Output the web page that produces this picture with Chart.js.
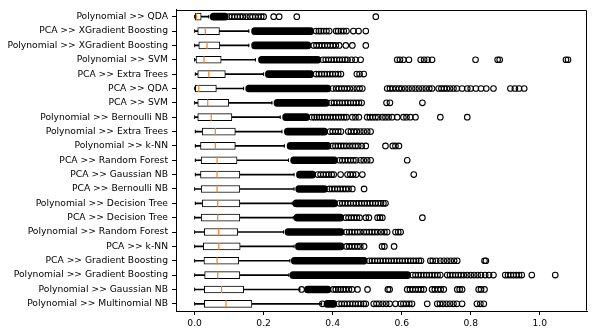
<!DOCTYPE html>
<html>
<head>
<meta charset="utf-8">
<script src="https://cdn.jsdelivr.net/npm/chart.js@4.4.1/dist/chart.umd.min.js"></script>
<style>
  html, body { margin: 0; padding: 0; background: #ffffff; }
  canvas { display: block; }
</style>
</head>
<body>
<canvas id="c" width="598" height="334"></canvas>
<script>
const labels = [
  'Polynomial >> QDA',
  'PCA >> XGradient Boosting',
  'Polynomial >> XGradient Boosting',
  'Polynomial >> SVM',
  'PCA >> Extra Trees',
  'PCA >> QDA',
  'PCA >> SVM',
  'Polynomial >> Bernoulli NB',
  'Polynomial >> Extra Trees',
  'Polynomial >> k-NN',
  'PCA >> Random Forest',
  'PCA >> Gaussian NB',
  'PCA >> Bernoulli NB',
  'Polynomial >> Decision Tree',
  'PCA >> Decision Tree',
  'Polynomial >> Random Forest',
  'PCA >> k-NN',
  'PCA >> Gradient Boosting',
  'Polynomial >> Gradient Boosting',
  'Polynomial >> Gaussian NB',
  'Polynomial >> Multinomial NB'
];

const whiskerLow  = [0.000,0.000,0.000,0.000,0.002,0.000,0.000,0.000,0.002,0.002,0.002,0.002,0.000,0.002,0.000,0.000,0.000,0.000,0.000,0.000,0.000];
const q1          = [0.002,0.009,0.012,0.004,0.009,0.002,0.009,0.009,0.022,0.017,0.019,0.017,0.019,0.022,0.019,0.028,0.025,0.027,0.029,0.028,0.028];
const median      = [0.005,0.031,0.036,0.027,0.041,0.012,0.038,0.048,0.060,0.060,0.065,0.065,0.065,0.067,0.067,0.070,0.070,0.065,0.067,0.078,0.091];
const q3          = [0.019,0.072,0.073,0.077,0.089,0.063,0.099,0.108,0.118,0.118,0.123,0.131,0.131,0.131,0.131,0.125,0.132,0.128,0.131,0.142,0.166];
const whiskerHigh = [0.041,0.157,0.157,0.176,0.200,0.142,0.224,0.248,0.253,0.260,0.272,0.288,0.288,0.283,0.286,0.258,0.288,0.276,0.273,0.305,0.368];

// ranges where the outlier circles overlap into a solid band
const denseLow  = [0.045,0.165,0.165,0.185,0.205,0.148,0.230,0.255,0.260,0.268,0.278,0.295,0.293,0.285,0.288,0.262,0.292,0.280,0.276,0.318,0.375];
const denseHigh = [0.097,0.345,0.337,0.366,0.345,0.395,0.390,0.333,0.385,0.395,0.414,0.351,0.385,0.414,0.432,0.433,0.433,0.500,0.626,0.395,0.412];

// individual outliers per row
const fliers = [
  [0.10,0.108,0.116,0.124,0.132,0.14,0.15,0.16,0.168,0.176,0.185,0.193,0.2,0.229,0.245,0.296,0.525],
  [0.352,0.36,0.366,0.374,0.382,0.39,0.41,0.416,0.424,0.432,0.44,0.46,0.475,0.496],
  [0.345,0.353,0.361,0.369,0.377,0.385,0.393,0.401,0.409,0.419,0.438,0.457,0.496],
  [0.372,0.38,0.388,0.396,0.404,0.412,0.42,0.428,0.436,0.443,0.455,0.466,0.481,0.587,0.595,0.605,0.621,0.655,0.665,0.675,0.688,0.814,0.878,0.884,1.076,1.082],
  [0.352,0.36,0.368,0.376,0.384,0.392,0.4,0.408,0.416,0.424,0.47,0.478,0.49],
  [0.40,0.41,0.418,0.426,0.434,0.442,0.45,0.46,0.47,0.478,0.486,0.558,0.566,0.574,0.583,0.592,0.6,0.61,0.62,0.63,0.64,0.65,0.66,0.67,0.68,0.688,0.707,0.715,0.723,0.731,0.74,0.75,0.76,0.775,0.79,0.80,0.815,0.83,0.845,0.866,0.915,0.928,0.94,0.955],
  [0.396,0.404,0.412,0.42,0.428,0.436,0.444,0.452,0.46,0.468,0.476,0.484,0.556,0.566,0.66],
  [0.34,0.347,0.354,0.361,0.369,0.377,0.385,0.393,0.401,0.409,0.417,0.425,0.433,0.44,0.457,0.466,0.476,0.50,0.508,0.516,0.524,0.532,0.544,0.553,0.562,0.572,0.587,0.605,0.614,0.625,0.64,0.712,0.79],
  [0.392,0.4,0.408,0.416,0.424,0.445,0.453,0.462,0.47,0.48,0.49,0.50,0.51],
  [0.40,0.408,0.416,0.424,0.432,0.44,0.449,0.458,0.466,0.474,0.484,0.496,0.553,0.574,0.582,0.592],
  [0.42,0.428,0.436,0.444,0.452,0.46,0.468,0.481,0.49,0.50,0.51,0.616],
  [0.357,0.365,0.373,0.381,0.389,0.397,0.403,0.423,0.443,0.451,0.459,0.468,0.486,0.635],
  [0.39,0.398,0.406,0.414,0.422,0.43,0.438,0.446,0.457,0.491],
  [0.42,0.428,0.436,0.444,0.452,0.46,0.468,0.476,0.484,0.492,0.50,0.508,0.516,0.524,0.532,0.54,0.547,0.553],
  [0.438,0.446,0.454,0.462,0.47,0.478,0.496,0.505,0.53,0.537,0.544,0.66],
  [0.44,0.448,0.456,0.464,0.472,0.48,0.49,0.498,0.506,0.514,0.522,0.53,0.54,0.55,0.558,0.582,0.59,0.597],
  [0.44,0.448,0.456,0.464,0.472,0.48,0.491,0.543,0.55,0.578],
  [0.506,0.514,0.522,0.53,0.538,0.546,0.554,0.562,0.57,0.578,0.586,0.594,0.602,0.61,0.618,0.626,0.634,0.642,0.65,0.656,0.683,0.69,0.70,0.712,0.722,0.732,0.742,0.752,0.761,0.84,0.844],
  [0.632,0.64,0.648,0.656,0.664,0.672,0.68,0.688,0.696,0.704,0.712,0.732,0.74,0.748,0.756,0.764,0.772,0.78,0.79,0.80,0.81,0.82,0.83,0.842,0.853,0.866,0.90,0.908,0.916,0.924,0.932,0.94,0.948,0.977,1.045],
  [0.31,0.402,0.409,0.416,0.423,0.43,0.438,0.447,0.456,0.472,0.501,0.56,0.565,0.616,0.624,0.632,0.64,0.648,0.656,0.664,0.688,0.696,0.705,0.713,0.722,0.761,0.768,0.775,0.823,0.83,0.84],
  [0.37,0.418,0.426,0.434,0.442,0.45,0.458,0.466,0.474,0.482,0.49,0.496,0.519,0.527,0.535,0.545,0.555,0.565,0.582,0.597,0.605,0.613,0.622,0.63,0.674,0.703,0.711,0.72,0.73,0.74,0.75,0.76,0.775,0.818,0.828,0.838]
];

const xTicks = [0.0, 0.2, 0.4, 0.6, 0.8, 1.0];
const xMin = -0.054, xMax = 1.137;

Chart.defaults.font.family = "'DejaVu Sans', sans-serif";
Chart.defaults.font.size = 9.2;
Chart.defaults.color = '#000';

const capPoints = [];
labels.forEach((l, i) => { capPoints.push({x: whiskerLow[i], y: l}); capPoints.push({x: whiskerHigh[i], y: l}); });
const medianPoints = labels.map((l, i) => ({x: median[i], y: l}));
const flierPoints = [];
labels.forEach((l, i) => fliers[i].forEach(v => flierPoints.push({x: v, y: l})));

const framePlugin = {
  id: 'frame',
  afterDraw(chart) {
    const {ctx, chartArea: a} = chart;
    ctx.save();
    ctx.strokeStyle = '#000';
    ctx.lineWidth = 1;
    ctx.beginPath();
    ctx.moveTo(Math.round(a.left) + 0.5, Math.round(a.top) + 0.5);
    ctx.lineTo(Math.round(a.right) - 0.5, Math.round(a.top) + 0.5);
    ctx.lineTo(Math.round(a.right) - 0.5, Math.round(a.bottom) - 0.5);
    ctx.stroke();
    ctx.restore();
  }
};

new Chart(document.getElementById('c'), {
  type: 'bar',
  data: {
    labels: labels,
    datasets: [
      { type: 'bar', indexAxis: 'y', label: 'whisker', order: 6, grouped: false,
        data: labels.map((_, i) => [whiskerLow[i], whiskerHigh[i]]),
        backgroundColor: '#000', borderWidth: 0, barThickness: 1 },
      { type: 'bar', indexAxis: 'y', label: 'box', order: 5, grouped: false,
        data: labels.map((_, i) => [q1[i], q3[i]]),
        backgroundColor: '#fff', borderColor: '#000', borderWidth: 1, borderSkipped: false, barThickness: 7 },
      { type: 'scatter', label: 'caps', order: 4, data: capPoints,
        pointStyle: 'line', rotation: 90, radius: 1.8, borderColor: '#000', borderWidth: 1 },
      { type: 'scatter', label: 'median', order: 3, data: medianPoints,
        pointStyle: 'line', rotation: 90, radius: 3.5, borderColor: '#ff7f0e', borderWidth: 1.2 },
      { type: 'bar', indexAxis: 'y', label: 'dense', order: 2, grouped: false,
        data: labels.map((_, i) => [denseLow[i], denseHigh[i]]),
        backgroundColor: '#000', borderWidth: 0, borderSkipped: false, borderRadius: 3.5, barThickness: 7 },
      { type: 'scatter', label: 'fliers', order: 1, data: flierPoints,
        pointStyle: 'circle', radius: 2.8, borderColor: '#000', backgroundColor: 'rgba(0,0,0,0)', borderWidth: 1.1 }
    ]
  },
  options: {
    responsive: false,
    animation: false,
    events: [],
    layout: { padding: { top: 9, right: 11, left: 0, bottom: 0 } },
    plugins: { legend: { display: false }, tooltip: { enabled: false } },
    scales: {
      x: {
        type: 'linear', position: 'bottom', min: xMin, max: xMax, offset: false,
        afterBuildTicks: s => { s.ticks = xTicks.map(v => ({ value: v })); },
        afterFit: s => { s.height = 23; },
        ticks: { callback: v => Number(v).toFixed(1), padding: 3, maxRotation: 0, autoSkip: false },
        grid: { offset: false, drawOnChartArea: false, drawTicks: true, tickLength: 4, color: '#000' },
        border: { display: true, color: '#000', width: 1 }
      },
      y: {
        type: 'category', position: 'left', offset: true,
        afterFit: s => { s.width = 176; },
        ticks: { padding: 4, autoSkip: false },
        grid: { offset: false, drawOnChartArea: false, drawTicks: true, tickLength: 4, color: '#000' },
        border: { display: true, color: '#000', width: 1 }
      }
    }
  },
  plugins: [framePlugin]
});
</script>
</body>
</html>
